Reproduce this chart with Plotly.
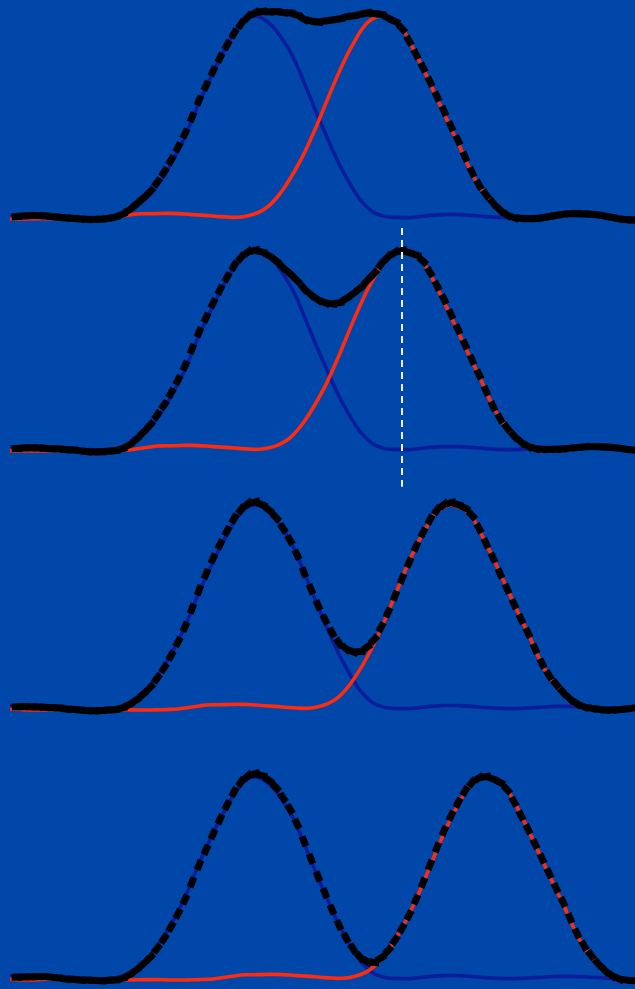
import plotly.graph_objects as go

# Channel index along the horizontal axis (uniform sampling)
channel = list(range(90))

# First component (blue), normalised height, same in every panel
blue_profile = [
    0.010, 0.012, 0.015, 0.016, 0.015, 0.013, 0.010, 0.008, 0.005, 0.003,
    0.000, -0.003, -0.004, -0.004, -0.002,
    0.000, 0.008, 0.025, 0.048, 0.077, 0.110, 0.155, 0.205, 0.265, 0.330,
    0.400, 0.485, 0.570, 0.645, 0.720, 0.790, 0.855, 0.915, 0.960, 0.990, 1.000,
    0.990, 0.965, 0.930, 0.880, 0.825, 0.755, 0.670, 0.585, 0.500, 0.420,
    0.340, 0.265, 0.200, 0.140, 0.088, 0.050, 0.022, 0.008, 0.000,
    -0.002, -0.003, -0.003, 0.000, 0.004, 0.008, 0.010, 0.012, 0.012, 0.012,
    0.010, 0.008, 0.005, 0.002, 0.000, -0.002, -0.003, -0.003, -0.002, 0.000,
    0.002, 0.004, 0.006, 0.008, 0.008, 0.008, 0.007, 0.006, 0.004, 0.002,
    0.000, -0.002, -0.004, -0.005, -0.005,
]

# Second component (red), tabulated by offset from its own peak: -68 .. +36
red_offsets = list(range(-68, 37))
red_profile = [
    -0.006, -0.008, -0.010, -0.010, -0.008, -0.006, -0.006, -0.008, -0.010, -0.010,
    -0.010, -0.008, -0.008, -0.010, -0.010, -0.010,
    -0.010, -0.010, -0.009, -0.008, -0.008, -0.008, -0.009, -0.010, -0.010, -0.010,
    -0.009, -0.008, -0.007,
    -0.005, 0.000, 0.005, 0.010,
    0.015, 0.016, 0.016, 0.017, 0.018, 0.018, 0.017, 0.015, 0.012, 0.010,
    0.008, 0.005, 0.002, 0.000, -0.002,
    0.000, 0.006, 0.016, 0.032, 0.056, 0.092, 0.137, 0.190, 0.250, 0.315,
    0.390, 0.470, 0.555, 0.640, 0.720, 0.795, 0.860, 0.920, 0.965, 0.990, 1.000,
    0.990, 0.975, 0.940, 0.880, 0.810, 0.740, 0.665, 0.590, 0.515, 0.440,
    0.370, 0.290, 0.215, 0.155, 0.110, 0.070, 0.037, 0.014, 0.000,
    -0.005, -0.008, -0.010, -0.008, -0.004, 0.000, 0.005, 0.008, 0.010, 0.010,
    0.010, 0.008, 0.004, 0.000, -0.005, -0.008, -0.010,
]

# Peak channel of the red component in each of the four panels (top to bottom)
red_peak_channel = [53, 56, 63, 68]

# Panel placement on the page: (baseline px, unit-height px) measured from top
W, H = 635, 989
panel_rows = [(217, 16), (449, 250), (708, 505), (978, 777)]
x_left_px, x_step_px = 10, 7

BG = "#0047A9"
BLUE = "#0C1C9A"
RED = "#FF2B0E"

fig = go.Figure()

for k, peak in enumerate(red_peak_channel):
    yname = "y" if k == 0 else f"y{k + 1}"
    red = [red_profile[c - peak - red_offsets[0]] for c in channel]
    total = [b + r for b, r in zip(blue_profile, red)]
    fig.add_trace(go.Scatter(x=channel, y=blue_profile, yaxis=yname, mode="lines",
                             line=dict(color=BLUE, width=3.6, shape="spline",
                                       smoothing=0.8),
                             hoverinfo="skip", showlegend=False))
    fig.add_trace(go.Scatter(x=channel, y=red, yaxis=yname, mode="lines",
                             line=dict(color=RED, width=3.6, shape="spline",
                                       smoothing=0.8),
                             hoverinfo="skip", showlegend=False))
    # sum of both components: short dashes oriented along the curve
    fig.add_trace(go.Scatter(x=channel, y=total, yaxis=yname, mode="markers",
                             marker=dict(color="black", size=7.5, symbol="line-ns",
                                         angleref="previous",
                                         line=dict(width=7, color="black")),
                             hoverinfo="skip", showlegend=False, cliponaxis=False))

# Axis ranges so that 0 sits on each panel's baseline and 1 on its peak row
def y_range(base, top):
    span = H / (base - top)
    hi = base / (base - top)
    return [hi - span, hi]

x0 = -x_left_px / x_step_px
x1 = x0 + W / x_step_px

layout = dict(
    width=W, height=H,
    margin=dict(l=0, r=0, t=0, b=0),
    paper_bgcolor=BG, plot_bgcolor=BG,
    xaxis=dict(range=[x0, x1], visible=False, domain=[0, 1]),
)
for k, (base, top) in enumerate(panel_rows):
    key = "yaxis" if k == 0 else f"yaxis{k + 1}"
    ax = dict(range=y_range(base, top), visible=False, domain=[0, 1])
    if k > 0:
        ax["overlaying"] = "y"
    layout[key] = ax
fig.update_layout(**layout)

# Dashed marker at the red peak of the second panel
fig.add_shape(type="line", xref="x", yref="y2",
              x0=red_peak_channel[1], x1=red_peak_channel[1], y0=1.11, y1=-0.19,
              line=dict(color="#EEF0F8", width=2, dash="7px,5px"))

fig.write_html("out.html")
